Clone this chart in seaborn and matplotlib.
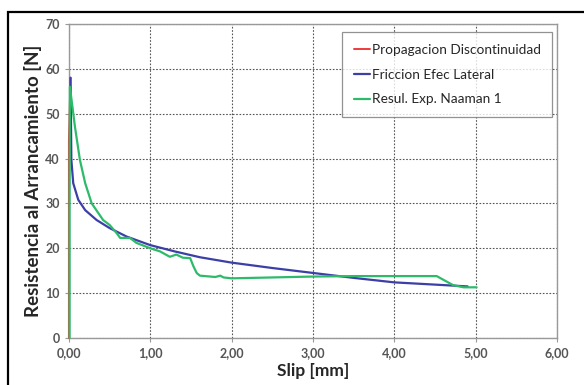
import pandas as pd
import matplotlib.pyplot as plt
import seaborn as sns
from matplotlib.patches import Rectangle
from matplotlib.ticker import FuncFormatter

# curve values
prop_x = [0.0, 0.0, 0.02]
prop_y = [0.0, 44.0, 58.0]

fric_x = [0.02, 0.03, 0.053, 0.115, 0.2, 0.34, 0.5, 0.71, 1.0, 1.3, 1.61,
          2.0, 2.5, 3.0, 3.5, 4.0, 4.5, 4.9]
fric_y = [58.0, 39.7, 34.5, 30.8, 28.5, 26.3, 24.5, 22.6, 20.7, 19.3, 18.0,
          16.8, 15.6, 14.5, 13.4, 12.4, 11.9, 11.5]

exp_x = [0.008, 0.008, 0.012, 0.074, 0.135, 0.2, 0.28, 0.42, 0.5, 0.59, 0.63,
         0.75, 0.83, 1.0, 1.12, 1.24, 1.32, 1.4, 1.49, 1.53, 1.57, 1.61, 1.8, 1.86,
         1.9, 2.0, 2.5, 3.0, 3.5, 4.0, 4.52, 4.6, 4.72, 4.85, 5.01]
exp_y = [0.0, 30.0, 56.0, 47.1, 39.7, 34.5, 30.0, 26.3, 25.2, 23.3, 22.3,
         22.3, 21.2, 20.0, 19.3, 18.1, 18.6, 17.9, 17.8, 16.0, 14.5, 13.9, 13.6, 13.9,
         13.5, 13.3, 13.5, 13.7, 13.8, 13.8, 13.8, 13.0, 11.8, 11.3, 11.3]

red = '#ee3b3b'
blue = '#3c3fa6'
green = '#2dbb6a'

sns.set_style('white')
plt.rcParams['font.family'] = ['Lato', 'DejaVu Sans']

fig = plt.figure(figsize=(5.84, 3.85), dpi=100)
ax = fig.add_axes([0.118, 0.122, 0.836, 0.816])

# outer frame of the chart
fig.patches.append(Rectangle((8 / 584, -0.02), 1.0, 1.0 - 12 / 385 + 0.02,
                             transform=fig.transFigure, fill=False,
                             edgecolor='black', linewidth=1.6))

sns.lineplot(x=prop_x, y=prop_y, sort=False, estimator=None, color=red, linewidth=1.4,
             ax=ax, label='Propagacion Discontinuidad', clip_on=False, zorder=3)
sns.lineplot(x=fric_x, y=fric_y, sort=False, estimator=None, color=blue, linewidth=1.6,
             ax=ax, label='Friccion Efec Lateral', zorder=3)
sns.lineplot(x=exp_x, y=exp_y, sort=False, estimator=None, color=green, linewidth=1.6,
             ax=ax, label='Resul. Exp. Naaman 1', clip_on=False, zorder=3)

ax.set_xlim(0, 6)
ax.set_ylim(0, 70)
ax.set_xticks(range(0, 7))
ax.set_yticks(range(0, 71, 10))
ax.xaxis.set_major_formatter(FuncFormatter(lambda v, p: f'{v:.2f}'.replace('.', ',')))
ax.grid(True, linestyle=(0, (1.5, 1.5)), color='#555555', linewidth=0.8)
for s in ax.spines.values():
    s.set_color('#999999')
    s.set_linewidth(1.0)
ax.tick_params(axis='both', labelsize=9, labelcolor='#555555', color='#999999',
               length=3, width=0.8, direction='out', bottom=True, left=True)
for lab in ax.get_xticklabels() + ax.get_yticklabels():
    lab.set_fontweight('bold')

ax.set_xlabel('Slip [mm]', fontsize=12.5, fontweight='bold', labelpad=3)
ax.set_ylabel('Resistencia al Arrancamiento [N]', fontsize=13.5, fontweight='bold', labelpad=2)

leg = ax.legend(loc='upper right', bbox_to_anchor=(0.99, 0.974), fontsize=9.8,
                frameon=True, fancybox=False, edgecolor='#777777', handlelength=1.2,
                handletextpad=0.1, labelspacing=0.95, borderpad=0.85, borderaxespad=0)
leg.get_frame().set_linewidth(0.9)

fig.savefig('out.png', dpi=100)
